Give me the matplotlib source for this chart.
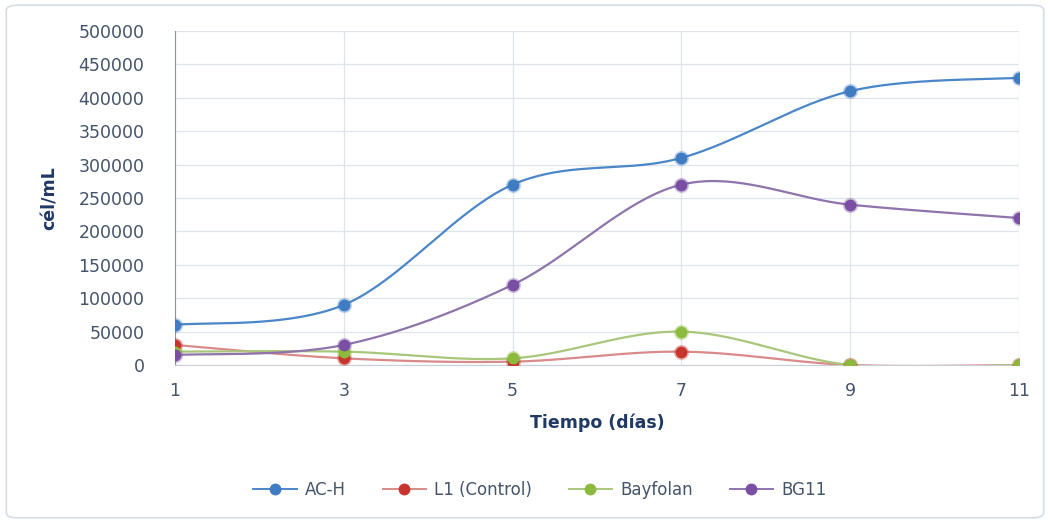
import matplotlib
matplotlib.use("Agg")
import matplotlib.pyplot as plt
from matplotlib.patches import FancyBboxPatch
import numpy as np

# data
dias = [1, 3, 5, 7, 9, 11]
ac_h = [60000, 90000, 270000, 310000, 410000, 430000]
l1_control = [30000, 10000, 5000, 20000, 0, 0]
bayfolan = [20000, 20000, 10000, 50000, 0, 0]
bg11 = [15000, 30000, 120000, 270000, 240000, 220000]

series = [
    ("AC-H", ac_h, "#4a86c8", "#3f7cc4"),
    ("L1 (Control)", l1_control, "#d98a8a", "#c8352e"),
    ("Bayfolan", bayfolan, "#a9c77a", "#8cba3c"),
    ("BG11", bg11, "#8f74ac", "#7a4ea3"),
]


def smooth(xs, ys, n=40):
    # Excel-like smoothed line: cubic bezier with catmull-rom control points
    xs = np.asarray(xs, float)
    ys = np.asarray(ys, float)
    px = np.concatenate([[xs[0]], xs, [xs[-1]]])
    py = np.concatenate([[ys[0]], ys, [ys[-1]]])
    ox, oy = [], []
    t = np.linspace(0, 1, n)
    for i in range(1, len(px) - 2):
        p0 = np.array([px[i], py[i]])
        p3 = np.array([px[i + 1], py[i + 1]])
        c1 = p0 + (np.array([px[i + 1], py[i + 1]]) - np.array([px[i - 1], py[i - 1]])) / 6
        c2 = p3 - (np.array([px[i + 2], py[i + 2]]) - np.array([px[i], py[i]])) / 6
        b = ((1 - t) ** 3)[:, None] * p0 + (3 * (1 - t) ** 2 * t)[:, None] * c1 \
            + (3 * (1 - t) * t ** 2)[:, None] * c2 + (t ** 3)[:, None] * p3
        ox.extend(b[:, 0])
        oy.extend(b[:, 1])
    return ox, oy


fig = plt.figure(figsize=(10.5, 5.23), dpi=100)
fig.patches.append(FancyBboxPatch((0.006, 0.01), 0.988, 0.98, boxstyle="round,pad=0,rounding_size=0.01",
                                  transform=fig.transFigure, fill=False, ec="#d5dde6", lw=1.2))
ax = fig.add_axes([175 / 1050, 1 - 365 / 523, (1019 - 175) / 1050, (365 - 31) / 523])

tick_col = "#44546a"
for name, ys, lc, mc in series:
    sx, sy = smooth(dias, ys)
    ax.plot(sx, sy, color=lc, lw=1.6, zorder=3)
    ax.plot(dias, ys, "o", color=mc, ms=10, alpha=0.25, zorder=4)
    ax.plot(dias, ys, "o", color=mc, ms=7.5, zorder=5)
    ax.plot([], [], "-o", color=lc, mfc=mc, mec=mc, ms=7.5, lw=1.4, label=name)

ax.set_xlim(1, 11)
ax.set_ylim(0, 500000)
ax.set_xticks(dias)
ax.set_yticks(np.arange(0, 500001, 50000))
ax.set_yticklabels([str(v) for v in range(0, 500001, 50000)])
ax.grid(True, color="#dfe3ea", lw=0.9)
ax.set_axisbelow(True)
for s in ["top", "right"]:
    ax.spines[s].set_visible(False)
ax.spines["left"].set_color("#8a95a5")
ax.spines["bottom"].set_color("#c9ced6")
ax.tick_params(axis="both", length=0, colors=tick_col, labelsize=12.5)
ax.tick_params(axis="y", pad=22)
ax.tick_params(axis="x", pad=12)

ax.set_xlabel("Tiempo (días)", fontsize=12.5, fontweight="bold", color="#1f3864", labelpad=10)
ax.set_ylabel("cél/mL", fontsize=12.5, fontweight="bold", color="#1f3864", labelpad=14)

leg = fig.legend(loc="center", bbox_to_anchor=(540 / 1050, 1 - 490 / 523), ncol=4, frameon=False,
                 fontsize=12, handlelength=2.6, columnspacing=2.2, handletextpad=0.5)
for t in leg.get_texts():
    t.set_color(tick_col)

fig.savefig("out.png", dpi=100)
